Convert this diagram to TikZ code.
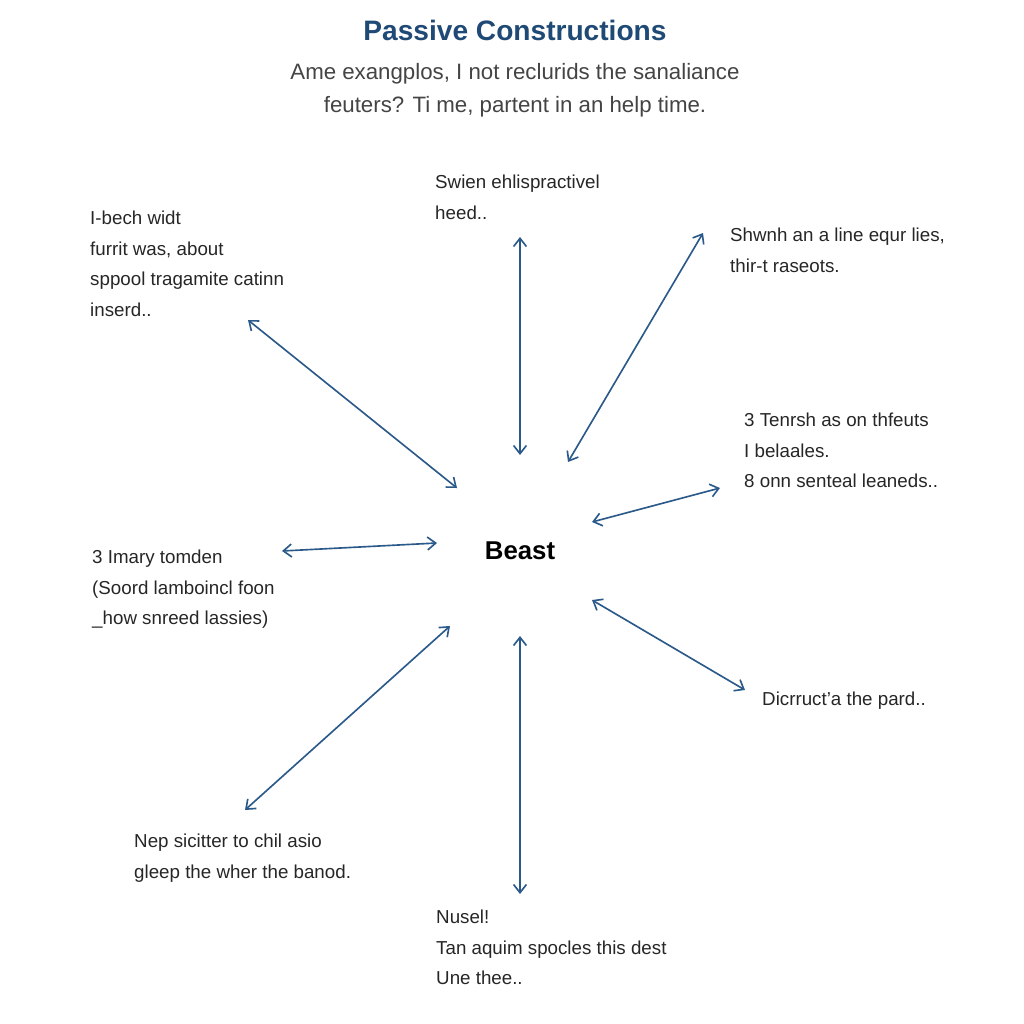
\documentclass[tikz,border=0pt]{standalone}
\usepackage{fontspec}
\usetikzlibrary{arrows.meta}
\setmainfont{Liberation Sans}
\definecolor{arr}{HTML}{2B5A8A}
\definecolor{ttl}{HTML}{1F4A75}
\definecolor{sub}{HTML}{444444}
\begin{document}
\begin{tikzpicture}[x=0.03cm,y=-0.03cm,
  lbl/.style={anchor=north west,align=left,font=\fontsize{16}{26}\selectfont,text=black!85,inner sep=0},
  con/.style={arr,line width=1.4pt,{Straight Barb[length=7pt,width=11pt]}-{Straight Barb[length=7pt,width=11pt]}}]
\useasboundingbox (0,0) rectangle (1024,1024);
\node[font=\bfseries\fontsize{24}{28}\selectfont,text=ttl] (title) at (515,30) {Passive Constructions};
\node[align=center,font=\fontsize{19}{28}\selectfont,text=sub] (sub) at (515,90) {Ame exangplos, I not reclurids the sanaliance\\feuters? Ti me, partent in an help time.};
\node[font=\bfseries\fontsize{22}{26}\selectfont] (c) at (520,551) {Beast};
\node[lbl] (t1) at (90,211) {I-bech widt\\furrit was, about\\sppool tragamite catinn\\inserd..};
\node[lbl] (t2) at (435,175) {Swien ehlispractivel\\heed..};
\node[lbl] (t3) at (730,228) {Shwnh an a line equr lies,\\thir-t raseots.};
\node[lbl] (t4) at (744,413) {3 Tenrsh as on thfeuts\\I belaales.\\8 onn senteal leaneds..};
\node[lbl] (t5) at (92,550) {3 Imary tomden\\(Soord lamboincl foon\\\_how snreed lassies)};
\node[lbl] (t6) at (762,692) {Dicrruct'a the pard..};
\node[lbl] (t7) at (134,834) {Nep sicitter to chil asio\\gleep the wher the banod.};
\node[lbl] (t8) at (436,910) {Nusel!\\Tan aquim spocles this dest\\Une thee..};
\coordinate (a1) at (248,320); \coordinate (b1) at (457,488);
\coordinate (a2) at (520,237); \coordinate (b2) at (520,455);
\coordinate (a3) at (703,233); \coordinate (b3) at (568,462);
\coordinate (a4) at (720,488); \coordinate (b4) at (592,522);
\coordinate (a5) at (282,551); \coordinate (b5) at (437,543);
\coordinate (a6) at (745,690); \coordinate (b6) at (592,600);
\coordinate (a7) at (245,810); \coordinate (b7) at (450,626);
\coordinate (a8) at (520,894); \coordinate (b8) at (520,636);
\foreach \i in {1,...,8} \draw[con] (a\i) -- (b\i);
\end{tikzpicture}
\end{document}
